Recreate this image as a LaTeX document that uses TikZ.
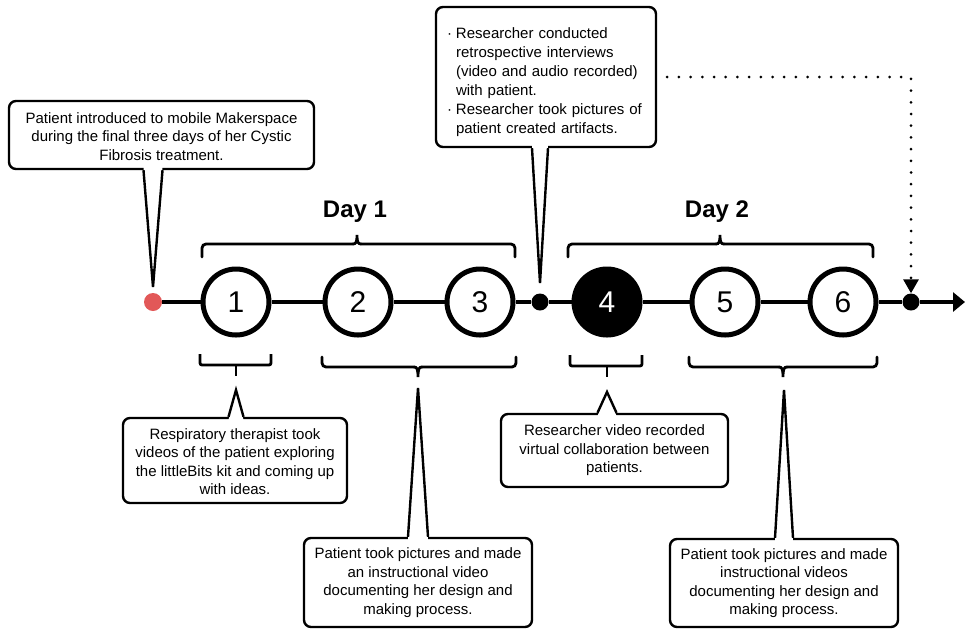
\documentclass[tikz,border=0pt]{standalone}
\usepackage{fontspec}
\setmainfont{Liberation Sans}
\usetikzlibrary{arrows.meta,calc}
\definecolor{dotred}{RGB}{226,88,88}
\tikzset{
  callout/.style={draw, line width=2.4pt, rounded corners=7pt, fill=white, align=center,
    inner sep=0pt, font=\fontsize{15}{18.5}\selectfont},
  ptrline/.style={line width=2.4pt, line join=miter},
  stepnode/.style={circle, draw, line width=5pt, minimum size=66pt, inner sep=0pt,
    fill=white, font=\fontsize{30}{32}\selectfont},
  smalldot/.style={circle, fill, minimum size=17pt, inner sep=0pt},
  brk/.style={line width=2.8pt, line cap=round},
  timeline/.style={line width=4.2pt},
  daylabel/.style={font=\bfseries\fontsize{24}{26}\selectfont},
  dotline/.style={line width=3pt, line cap=round, dash pattern=on 0pt off 11.7pt},
}
\newcommand\callptr[5]{%
  \fill[white] ($(#3 |- #1.#2)+(-#4,#5)$) -- (#3) -- ($(#3 |- #1.#2)+(#4,#5)$) -- cycle;
  \draw[ptrline] ($(#3 |- #1.#2)+(-#4,0)$) -- (#3) -- ($(#3 |- #1.#2)+(#4,0)$);
}
\newcommand\topbrace[3]{%
  \draw[brk, rounded corners=4pt] (#1,257) -- (#1,244) -- (#2-4,244);
  \draw[brk] (#2-4,244) .. controls (#2-1,244) and (#2,242) .. (#2,235)
     .. controls (#2,242) and (#2+1,244) .. (#2+4,244);
  \draw[brk, rounded corners=4pt] (#2+4,244) -- (#3,244) -- (#3,257);
}
\newcommand\botbrace[4]{%
  \draw[brk, rounded corners=4pt] (#1,#4-10) -- (#1,#4) -- (#2-4,#4);
  \draw[brk] (#2-4,#4) .. controls (#2-1,#4) and (#2,#4+2) .. (#2,#4+10)
     .. controls (#2,#4+2) and (#2+1,#4) .. (#2+4,#4);
  \draw[brk, rounded corners=4pt] (#2+4,#4) -- (#3,#4) -- (#3,#4-10);
}
\newcommand\stembrace[4]{%
  \draw[line width=2.8pt, rounded corners=2pt] (#1,#4-11) -- (#1,#4) -- (#3,#4) -- (#3,#4-11);
  \draw[line width=2.8pt] (#2,#4) -- (#2,#4+11);
}
\begin{document}
\begin{tikzpicture}[x=1pt,y=-1pt]
\useasboundingbox (0,0) rectangle (965,630);

% timeline
\node[smalldot, fill=dotred, minimum size=18pt] (start) at (153,302) {};
\node[stepnode] (s1) at (236,302) {1};
\node[stepnode] (s2) at (358,302) {2};
\node[stepnode] (s3) at (480,302) {3};
\node[smalldot] (mid) at (540,302) {};
\node[stepnode, fill=black, text=white] (s4) at (607,302) {4};
\node[stepnode] (s5) at (725,302) {5};
\node[stepnode] (s6) at (843,302) {6};
\node[smalldot] (fin) at (911,302) {};
\coordinate (tend) at (965,302);

% callouts
\node[callout, minimum width=305pt, minimum height=68pt] (cIntro) at (161.5,135)
  {\rule{0pt}{13.5pt}Patient introduced to mobile Makerspace\\during the final three days of her Cystic\\Fibrosis treatment.};
\node[callout, align=left, text width=198pt, inner xsep=11pt, minimum height=140pt,
  font=\fontsize{15}{19}\selectfont] (cRes) at (546,77)
  {\rule{0pt}{21pt}\makebox[9pt][l]{·}Researcher conducted\\
   \hspace*{9pt}retrospective interviews\\
   \hspace*{9pt}(video and audio recorded)\\
   \hspace*{9pt}with patient.\\
   \makebox[9pt][l]{·}Researcher took pictures of\\
   \hspace*{9pt}patient created artifacts.};
\node[callout, minimum width=224pt, minimum height=85pt] (cB1) at (235,460.5)
  {\rule{0pt}{13.5pt}Respiratory therapist took\\videos of the patient exploring\\the littleBits kit and coming up\\with ideas.};
\node[callout, minimum width=228pt, minimum height=89pt] (cB2) at (418,582.5)
  {Patient took pictures and made\\an instructional video\\documenting her design and\\making process.};
\node[callout, minimum width=227pt, minimum height=73pt] (cB4) at (614.5,450.5)
  {Researcher video recorded\\virtual collaboration between\\patients.};
\node[callout, minimum width=228pt, minimum height=88pt] (cB5) at (784,583)
  {Patient took pictures and made\\instructional videos\\documenting her design and\\making process.};

% timeline connectors
\draw[timeline] (start) -- (s1) -- (s2) -- (s3) -- (mid) -- (s4) -- (s5) -- (s6) -- (fin);
\draw[timeline, -{Triangle[length=12pt,width=19pt]}] (fin) -- (tend);

% dotted arrow
\draw[dotline, -{Triangle[length=14pt,width=15pt]}] ($(cRes.east)+(10,0)$) -- (fin |- cRes.east) -- (fin);

% day labels and braces
\node[daylabel] (day1) at (355,212) {Day 1};
\node[daylabel] (day2) at (717,212) {Day 2};
\topbrace{202}{357}{515}
\topbrace{568}{720}{873}
\stembrace{200}{236}{271}{365}
\botbrace{322}{418}{516}{367}
\stembrace{570}{607}{642}{366}
\botbrace{689}{783}{877}{367}

% pointer tips
\coordinate (tIntro) at (153,287);
\coordinate (tRes) at (540,283);
\coordinate (tB1) at (236,390);
\coordinate (tB2) at (418,388);
\coordinate (tB4) at (607,392);
\coordinate (tB5) at (784,390);
\callptr{cIntro}{south}{tIntro}{9.5}{-3}
\callptr{cRes}{south}{tRes}{8}{-3}
\callptr{cB1}{north}{tB1}{7.5}{3}
\callptr{cB2}{north}{tB2}{10}{3}
\callptr{cB4}{north}{tB4}{9.5}{3}
\callptr{cB5}{north}{tB5}{9}{3}
\end{tikzpicture}
\end{document}
